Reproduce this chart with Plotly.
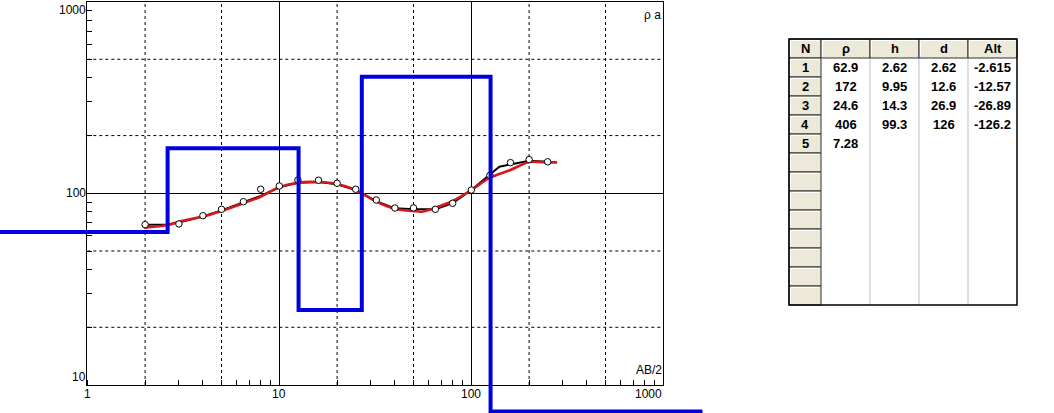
import math
import plotly.graph_objects as go

# ---------------- data ----------------
# observed apparent resistivity (AB/2, rho_a)
ab2_obs = [2, 3, 4, 5, 6.5, 8, 10, 12.5, 16, 20, 25, 32, 40, 50, 65, 80, 100, 125, 160, 200, 250]
rho_obs = [68.6, 69.2, 76.4, 82.5, 90.4, 105, 109.2, 117.3, 117, 112.8, 105, 92.3, 83.8, 83.9,
           82.5, 88.7, 104, 124, 144.5, 150, 146]

# smoothed observed curve (black)
ab2_smooth = [2, 2.6, 3, 4, 5, 6.5, 8, 10, 12.5, 16, 20, 25, 32, 40, 50, 65, 80, 100, 125, 140, 160, 200, 250]
rho_smooth = [68.6, 68.8, 70.5, 75.8, 81.5, 89.5, 97, 107.5, 113.5, 114.5, 111.5, 104, 91, 83.5,
              82.5, 82.5, 89, 104, 125, 137.5, 141.5, 148, 146]

# calculated (model) curve (red)
ab2_calc = [2, 2.62, 3, 4, 5, 6.5, 8, 10, 12.5, 16, 20, 25, 32, 40, 50, 55, 65, 80, 100, 125, 160, 200, 250, 280]
rho_calc = [66.2, 68.3, 71.1, 75.6, 80.9, 88.7, 96, 107.5, 113.6, 114.5, 111.8, 104, 90.4, 82.8,
            80.9, 80.1, 84.1, 91.2, 104, 120.6, 132.3, 145.6, 145, 145]

# layered model (table)
layer_n = [1, 2, 3, 4, 5]
layer_rho = ["62.9", "172", "24.6", "406", "7.28"]
layer_h = ["2.62", "9.95", "14.3", "99.3", ""]
layer_d = ["2.62", "12.6", "26.9", "126", ""]
layer_alt = ["-2.615", "-12.57", "-26.89", "-126.2", ""]
model_rho = [62.9, 172, 24.6, 406, 7.28]
model_depth = [2.62, 12.6, 26.9, 126]
model_start = 0.3
model_end = 1600

x_major = [1, 10, 100, 1000]
y_major = [10, 100, 1000]
x_dash = [2, 5, 20, 50, 200, 500]
y_dash = [20, 50, 200, 500]
x_tick_labels = ["1", "10", "100", "1000"]
y_tick_labels = ["10", "100", "1000"]
table_headers = ["N", "ρ", "h", "d", "Alt"]
n_table_rows = 13

# ---------------- layout geometry ----------------
W, H = 1054, 413
def fx(px):
    return px / W
def fy(py):
    return 1 - py / H

xd = [fx(87.3), fx(663.3)]
yd = [fy(385), fy(1.6)]
xr = [0, 3]
yr = [1, 3]

# overlay axes with the same scale but covering the whole figure (unclipped model line)
sx = (xr[1] - xr[0]) / (xd[1] - xd[0])
sy = (yr[1] - yr[0]) / (yd[1] - yd[0])
xr2 = [xr[0] - xd[0] * sx, xr[1] + (1 - xd[1]) * sx]
yr2 = [yr[0] - yd[0] * sy, yr[1] + (1 - yd[1]) * sy]

fig = go.Figure()

# dashed grid lines
gx, gy = [], []
for v in x_dash:
    gx += [v, v, None]
    gy += [10 ** yr[0], 10 ** yr[1], None]
for v in y_dash:
    gx += [10 ** xr[0], 10 ** xr[1], None]
    gy += [v, v, None]
fig.add_trace(go.Scatter(x=gx, y=gy, mode="lines", line=dict(color="black", width=1, dash="3px,3px"),
                         hoverinfo="skip", showlegend=False))

# black smoothed observed curve
fig.add_trace(go.Scatter(x=ab2_smooth, y=rho_smooth, mode="lines", line=dict(color="black", width=2),
                         showlegend=False))
# red calculated curve
fig.add_trace(go.Scatter(x=ab2_calc, y=rho_calc, mode="lines", line=dict(color="#D81818", width=2.6, shape="spline", smoothing=0.8),
                         showlegend=False))
# observed points
fig.add_trace(go.Scatter(x=ab2_obs, y=rho_obs, mode="markers",
                         marker=dict(symbol="circle", size=6.5, color="white", line=dict(color="black", width=1)),
                         showlegend=False))

# model step line (overlay axes)
mx, my = [model_start], [model_rho[0]]
for i, dep in enumerate(model_depth):
    mx += [dep, dep]
    my += [model_rho[i], model_rho[i + 1]]
mx.append(model_end)
my.append(model_rho[-1])
fig.add_trace(go.Scatter(x=mx, y=my, mode="lines", xaxis="x2", yaxis="y2",
                         line=dict(color="#0000DD", width=4), showlegend=False))

axis_common = dict(type="log", showgrid=True, gridcolor="black", gridwidth=1, ticks="",
                   showticklabels=False, showline=True, linecolor="black", linewidth=1, mirror=True,
                   zeroline=False, tickmode="array",
                   minor=dict(dtick="D1", ticks="inside", ticklen=5, tickcolor="black", tickwidth=1, showgrid=False))

fig.update_layout(
    width=W, height=H, margin=dict(l=0, r=0, t=0, b=0),
    paper_bgcolor="white", plot_bgcolor="rgba(0,0,0,0)",
    xaxis=dict(domain=xd, range=xr, tickvals=x_major, anchor="y", **axis_common),
    yaxis=dict(domain=yd, range=yr, tickvals=y_major, anchor="x", **axis_common),
    xaxis2=dict(type="log", domain=[0, 1], range=xr2, visible=False, anchor="y2", fixedrange=True),
    yaxis2=dict(type="log", domain=[0, 1], range=yr2, visible=False, anchor="x2", fixedrange=True),
    showlegend=False,
)

lab_font = dict(family="Liberation Sans, Arial, sans-serif", size=12, color="black")
ann = []
# x tick labels
for v, t in zip(x_major, x_tick_labels):
    ann.append(dict(x=math.log10(v), xref="x", y=fy(386), yref="paper", text=t, showarrow=False,
                    xanchor="right" if v == x_major[-1] else "center", yanchor="top", font=lab_font,
                    borderpad=0))
# y tick labels
for v, t in zip(y_major, y_tick_labels):
    ya = "middle"
    if v == y_major[-1]:
        ya = "top"
    elif v == y_major[0]:
        ya = "bottom"
    ann.append(dict(x=fx(86.5), xref="paper", y=math.log10(v), yref="y", text=t, showarrow=False,
                    xanchor="right", yanchor=ya, font=lab_font, borderpad=0))
ann.append(dict(x=fx(662), xref="paper", y=fy(7), yref="paper", text="ρ a", showarrow=False,
                xanchor="right", yanchor="top", font=lab_font, borderpad=0))
ann.append(dict(x=fx(663), xref="paper", y=fy(378), yref="paper", text="AB/2", showarrow=False,
                xanchor="right", yanchor="bottom", font=lab_font, borderpad=0))

# ---------------- table ----------------
col_edges = [789, 821, 870, 919, 968, 1017]
t_top = 39
row_h = 19
t_bottom = t_top + row_h * (n_table_rows + 1)
beige = "#ECE9D8"
shapes = []
# data area background
shapes.append(dict(type="rect", xref="paper", yref="paper", x0=fx(col_edges[0]), x1=fx(col_edges[-1]),
                   y0=fy(t_bottom), y1=fy(t_top), fillcolor="white", line=dict(width=0), layer="below"))
# gray column separators
for cx in col_edges[2:-1]:
    shapes.append(dict(type="line", xref="paper", yref="paper", x0=fx(cx), x1=fx(cx),
                       y0=fy(t_bottom), y1=fy(t_top + row_h), line=dict(color="#C0C0C0", width=1)))

def cell(x0, x1, y0, y1):
    shapes.append(dict(type="rect", xref="paper", yref="paper", x0=fx(x0), x1=fx(x1), y0=fy(y1), y1=fy(y0),
                       fillcolor=beige, line=dict(color="#303030", width=1)))
    # highlight
    shapes.append(dict(type="line", xref="paper", yref="paper", x0=fx(x0 + 1.5), x1=fx(x1 - 1.5),
                       y0=fy(y0 + 1.5), y1=fy(y0 + 1.5), line=dict(color="white", width=1)))
    shapes.append(dict(type="line", xref="paper", yref="paper", x0=fx(x0 + 1.5), x1=fx(x0 + 1.5),
                       y0=fy(y0 + 1.5), y1=fy(y1 - 1.5), line=dict(color="white", width=1)))

# header cells
for i in range(len(table_headers)):
    cell(col_edges[i], col_edges[i + 1], t_top, t_top + row_h)
# N column cells
for r in range(n_table_rows):
    y0 = t_top + row_h * (r + 1)
    cell(col_edges[0], col_edges[1], y0, y0 + row_h)
# outer border
shapes.append(dict(type="rect", xref="paper", yref="paper", x0=fx(col_edges[0]), x1=fx(col_edges[-1]),
                   y0=fy(t_bottom), y1=fy(t_top), line=dict(color="black", width=1.5)))

tab_font = dict(family="Liberation Sans, Arial, sans-serif", size=13, color="black")
def ctext(ci, ri, txt):
    xc = (col_edges[ci] + col_edges[ci + 1]) / 2
    yc = t_top + row_h * ri + row_h / 2
    ann.append(dict(x=fx(xc), xref="paper", y=fy(yc), yref="paper", text="<b>%s</b>" % txt, showarrow=False,
                    xanchor="center", yanchor="middle", font=tab_font, borderpad=0))

for ci, hname in enumerate(table_headers):
    ctext(ci, 0, hname)
for r in range(len(layer_n)):
    ctext(0, r + 1, str(layer_n[r]))
    ctext(1, r + 1, layer_rho[r])
    if layer_h[r]:
        ctext(2, r + 1, layer_h[r])
    if layer_d[r]:
        ctext(3, r + 1, layer_d[r])
    if layer_alt[r]:
        ctext(4, r + 1, layer_alt[r])

fig.update_layout(annotations=ann, shapes=shapes)
fig.write_html("out.html", config={"displayModeBar": False},
               post_script="document.body.style.margin='0';document.body.style.padding='0';")
